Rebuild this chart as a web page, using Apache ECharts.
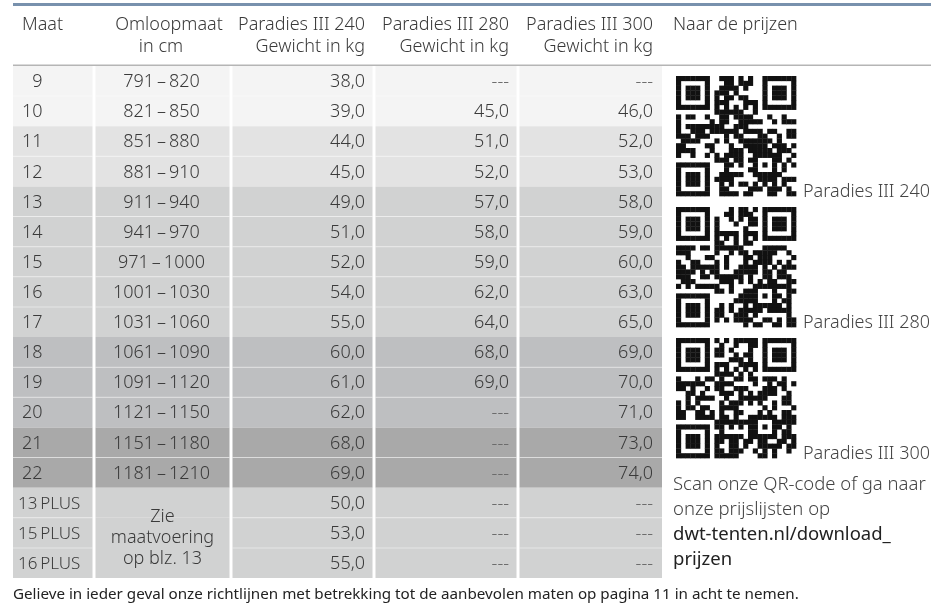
<!DOCTYPE html>
<html><head><meta charset="utf-8">
<script src="https://cdn.jsdelivr.net/npm/echarts/dist/echarts.min.js"></script>
<style>html,body{margin:0;padding:0;background:#fff}#c{width:931px;height:606px}</style>
</head><body><div id="c"></div><script>
// ---- data ----
const maat = ['9','10','11','12','13','14','15','16','17','18','19','20','21','22','13\u2009PLUS','15\u2009PLUS','16\u2009PLUS'];
const omloop = ['791\u2009\u2013\u2009820','821\u2009\u2013\u2009850','851\u2009\u2013\u2009880','881\u2009\u2013\u2009910','911\u2009\u2013\u2009940','941\u2009\u2013\u2009970','971\u2009\u2013\u20091000','1001\u2009\u2013\u20091030','1031\u2009\u2013\u20091060','1061\u2009\u2013\u20091090','1091\u2009\u2013\u20091120','1121\u2009\u2013\u20091150','1151\u2009\u2013\u20091180','1181\u2009\u2013\u20091210',null,null,null];
const omloopPlus = 'Zie\nmaatvoering\nop blz. 13';
const p240 = [38,39,44,45,49,51,52,54,55,60,61,62,68,69,50,53,55];
const p280 = [null,45,51,52,57,58,59,62,64,68,69,null,null,null,null,null,null];
const p300 = [null,46,52,53,58,59,60,63,65,69,70,71,73,74,null,null,null];
const bandOf = [0,0,1,1,2,2,2,2,2,3,3,3,4,4,5,5,5];
const headers1 = ['Maat','Omloopmaat','Paradies III 240','Paradies III 280','Paradies III 300','Naar de prijzen'];
const headers2 = ['','in cm','Gewicht in kg','Gewicht in kg','Gewicht in kg'];
const qrLabels = ['Paradies III 240','Paradies III 280','Paradies III 300'];
const infoLines = ['Scan onze QR-code of ga naar','onze prijslijsten op','dwt-tenten.nl/download_','prijzen'];
const footer = 'Gelieve in ieder geval onze richtlijnen met betrekking tot de aanbevolen maten op pagina 11 in acht te nemen.';

// ---- style / layout ----
const bandColors = ['#f4f4f4','#e3e3e3','#d1d2d2','#bebfc1','#a9a9a9','#d1d2d2'];
const colEdges = [0,81,218,361,505,649];
const L = 13;
const FONT = '"Noto Sans", "Open Sans", sans-serif';
const TXT = '#3a3a3a';
const fmt = v => v == null ? '---' : v.toFixed(1).replace('.', ',');

const cells = [];
for (let r = 0; r < maat.length; r++) for (let c = 0; c < 5; c++) cells.push([c, r]);

function cellText(c, r) {
  if (c === 0) return maat[r];
  if (c === 1) return omloop[r];
  if (c === 2) return fmt(p240[r]);
  if (c === 3) return fmt(p280[r]);
  return fmt(p300[r]);
}

function renderItem(params, api) {
  const c = api.value(0), r = api.value(1);
  const a = api.coord([colEdges[c], r]);
  const b = api.coord([colEdges[c + 1], r]);
  const h = api.size([0, 1])[1];
  const y0 = a[1] - h / 2;
  const x0 = a[0] + (c > 0 ? 1.5 : 0);
  const x1 = b[0] - (c < 4 ? 1.5 : 0);
  const ch = [];
  ch.push({type: 'rect', shape: {x: x0, y: y0, width: x1 - x0, height: h}, style: {fill: bandColors[bandOf[r]]}});
  const merged = (c === 1 && r >= 14);
  if (r > 0 && bandOf[r] === bandOf[r - 1] && !merged) {
    ch.push({type: 'rect', shape: {x: x0, y: y0 - 0.5, width: x1 - x0, height: 1}, style: {fill: 'rgba(255,255,255,0.45)'}});
  }
  let t = cellText(c, r);
  if (c === 1 && r === maat.length - 1) {
    const cy = api.coord([0, 15])[1] + 5;
    ch.push({type: 'text', style: {text: omloopPlus, x: (x0 + x1) / 2, y: cy, align: 'center', verticalAlign: 'middle', fontFamily: FONT, fontWeight: 300, fontSize: 18, lineHeight: 21, fill: TXT}});
  } else if (t != null) {
    let x, align;
    if (c === 0) { x = maat[r].length > 3 ? x0 + 5 : x0 + 9; align = 'left'; if (maat[r].length === 1) t = '\u2007' + t; }
    else if (c === 1) { x = (x0 + x1) / 2 - 1; align = 'center'; }
    else { x = b[0] - 9; align = 'right'; }
    const dash = t === '---';
    ch.push({type: 'text', style: {text: t, x: x, y: a[1] + 1, align: align, verticalAlign: 'middle', fontFamily: FONT, fontWeight: 300, fontSize: c === 0 && maat[r].length > 3 ? 17 : 18, fill: dash ? '#6a6a6a' : TXT}});
  }
  return {type: 'group', children: ch};
}

// header / right panel graphics
const g = [];
g.push({type: 'rect', shape: {x: L, y: 3, width: 931 - L, height: 3}, style: {fill: '#7891ad'}});
g.push({type: 'rect', shape: {x: L, y: 64.5, width: 931 - L, height: 1.5}, style: {fill: '#b5b5b5'}});
const hs = {fontFamily: FONT, fontWeight: 300, fontSize: 18, fill: TXT, verticalAlign: 'middle'};
g.push({type: 'text', style: Object.assign({text: headers1[0], x: L + 9, y: 25, align: 'left'}, hs)});
g.push({type: 'text', style: Object.assign({text: headers1[1], x: 169, y: 25, align: 'center'}, hs)});
g.push({type: 'text', style: Object.assign({text: headers2[1], x: 161, y: 47, align: 'center'}, hs)});
for (let c = 2; c < 5; c++) {
  const xr = L + colEdges[c + 1] - 9;
  g.push({type: 'text', style: Object.assign({text: headers1[c], x: xr, y: 25, align: 'right'}, hs)});
  g.push({type: 'text', style: Object.assign({text: headers2[c], x: xr, y: 47, align: 'right'}, hs)});
}
g.push({type: 'text', style: Object.assign({text: headers1[5], x: 673, y: 25, align: 'left'}, hs)});

// QR-like module patterns (decorative only)
function mix(x) {
  x = Math.imul(x ^ (x >>> 16), 0x7feb352d);
  x = Math.imul(x ^ (x >>> 15), 0x846ca68b);
  return (x ^ (x >>> 16)) >>> 0;
}
function qrMatrix(q) {
  const N = 25, m = [];
  for (let i = 0; i < N; i++) { m.push([]); for (let j = 0; j < N; j++) {
    const h = mix(mix(q * 1000 + i * 31 + 7) ^ (j * 2654435761));
    m[i].push((h % 100) < 56 ? 1 : 0);
  } }
  const finder = (r0, c0) => { for (let i = -1; i <= 7; i++) for (let j = -1; j <= 7; j++) {
    const r = r0 + i, c = c0 + j; if (r < 0 || c < 0 || r >= N || c >= N) continue;
    const on = i >= 0 && i <= 6 && j >= 0 && j <= 6 && (i === 0 || i === 6 || j === 0 || j === 6 || (i >= 2 && i <= 4 && j >= 2 && j <= 4));
    m[r][c] = on ? 1 : 0; } };
  finder(0, 0); finder(0, 18); finder(18, 0);
  for (let k = 8; k < 17; k++) { m[6][k] = k % 2 === 0 ? 1 : 0; m[k][6] = k % 2 === 0 ? 1 : 0; }
  for (let i = -2; i <= 2; i++) for (let j = -2; j <= 2; j++) m[18 + i][18 + j] = (Math.max(Math.abs(i), Math.abs(j)) !== 1) ? 1 : 0;
  return m;
}
const QS = 120, QX = 676, QY = [76, 207, 338];
for (let q = 0; q < 3; q++) {
  const m = qrMatrix(q), s = QS / 25, kids = [];
  for (let i = 0; i < 25; i++) for (let j = 0; j < 25; j++) if (m[i][j])
    kids.push({type: 'rect', shape: {x: QX + j * s, y: QY[q] + i * s, width: s + 0.35, height: s + 0.35}, style: {fill: '#111'}});
  g.push({type: 'group', children: kids});
  g.push({type: 'text', style: Object.assign({}, hs, {text: qrLabels[q], x: 803, y: QY[q] + 116, align: 'left', fill: '#444'})});
}
infoLines.forEach((t, i) => {
  const dark = i >= 2;
  g.push({type: 'text', style: Object.assign({}, hs, {text: t, x: 673, y: 485 + i * 25, align: 'left', fontSize: 18.5, fontWeight: dark ? 400 : 300, fill: dark ? '#222' : '#444'})});
});
g.push({type: 'text', style: {text: footer, x: L, y: 595, align: 'left', verticalAlign: 'middle', fontFamily: FONT, fontSize: 15.2, fill: '#222'}});

const chart = echarts.init(document.getElementById('c'), null, {renderer: 'canvas'});
chart.setOption({
  animation: false,
  backgroundColor: '#fff',
  grid: {left: L, top: 66, width: colEdges[5], bottom: 28},
  xAxis: {type: 'value', min: 0, max: colEdges[5], show: false},
  yAxis: {type: 'category', data: maat, inverse: true, show: false},
  series: [{type: 'custom', renderItem: renderItem, data: cells, clip: false}],
  graphic: g
});
</script></body></html>
